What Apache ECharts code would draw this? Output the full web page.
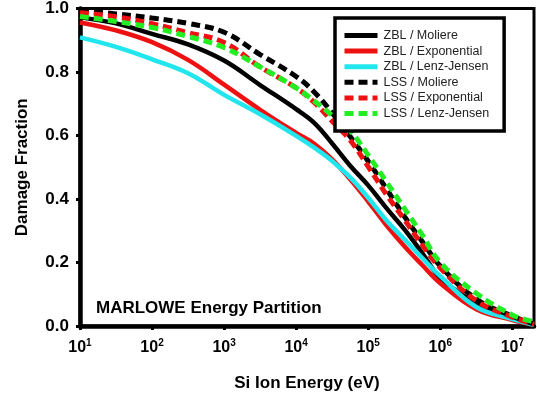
<!DOCTYPE html>
<html>
<head>
<meta charset="utf-8">
<script src="https://cdn.jsdelivr.net/npm/echarts@6/dist/echarts.min.js"></script>
<style>
  html, body { margin: 0; padding: 0; background: #fff; }
  #chart { width: 537px; height: 397px; }
</style>
</head>
<body>
<div id="chart"></div>
<script>
// Si ion energy (eV) sample points
const energies = [1e1, 3.16e1, 1e2, 3.16e2, 1e3, 3.16e3, 1e4, 1.78e4, 3.16e4, 5.62e4,
                  1e5, 1.78e5, 3.16e5, 5.62e5, 1e6, 3.16e6, 1e7, 2e7];

// Damage fraction for each stopping / potential combination
const zblMoliere     = [0.972, 0.953, 0.920, 0.887, 0.836, 0.759, 0.683, 0.640, 0.575, 0.505,
                        0.443, 0.372, 0.305, 0.230, 0.152, 0.072, 0.025, 0.004];
const zblExponential = [0.956, 0.931, 0.894, 0.838, 0.760, 0.681, 0.608, 0.574, 0.525, 0.462,
                        0.392, 0.318, 0.252, 0.192, 0.135, 0.053, 0.019, 0.004];
const zblLenzJensen  = [0.909, 0.879, 0.840, 0.796, 0.728, 0.667, 0.599, 0.562, 0.520, 0.468,
                        0.404, 0.333, 0.274, 0.214, 0.157, 0.060, 0.022, 0.004];
const lssMoliere     = [0.994, 0.983, 0.970, 0.953, 0.925, 0.855, 0.786, 0.737, 0.671, 0.597,
                        0.519, 0.433, 0.346, 0.266, 0.189, 0.085, 0.031, 0.006];
const lssExponential = [0.987, 0.974, 0.952, 0.924, 0.893, 0.816, 0.750, 0.704, 0.645, 0.585,
                        0.502, 0.415, 0.336, 0.255, 0.183, 0.080, 0.028, 0.006];
const lssLenzJensen  = [0.975, 0.959, 0.940, 0.912, 0.877, 0.816, 0.750, 0.709, 0.663, 0.615,
                        0.538, 0.455, 0.371, 0.287, 0.200, 0.103, 0.035, 0.013];

const seriesNames = ['ZBL / Moliere', 'ZBL / Exponential', 'ZBL / Lenz-Jensen',
                     'LSS / Moliere', 'LSS / Exponential', 'LSS / Lenz-Jensen'];
const yTicks = [0, 0.2, 0.4, 0.6, 0.8, 1.0];

const FONT = "'Liberation Sans', Arial, sans-serif";

function pairs(values) {
  return energies.map((e, i) => [e, values[i]]);
}

function makeLine(name, values, color, dashed) {
  return {
    name: name,
    type: 'line',
    data: pairs(values),
    smooth: 0.4,
    symbol: 'none',
    lineStyle: {
      color: color,
      width: dashed ? 5 : 4.5,
      type: dashed ? [9, 5] : 'solid',
      cap: 'butt'
    },
    itemStyle: { color: color },
    emphasis: { disabled: true },
    z: dashed ? 3 : 2
  };
}

const chart = echarts.init(document.getElementById('chart'), null, { renderer: 'canvas' });

chart.setOption({
  animation: false,
  backgroundColor: '#ffffff',
  textStyle: { fontFamily: FONT },
  grid: {
    left: 80, right: 3, top: 8, bottom: 71,
    show: true, borderColor: '#000', borderWidth: 3, backgroundColor: 'transparent'
  },
  legend: {
    orient: 'vertical',
    left: 335, top: 18,
    padding: [11, 15, 11, 7],
    itemWidth: 33, itemHeight: 14, itemGap: 2.6,
    borderColor: '#000', borderWidth: 3.5,
    backgroundColor: '#fff',
    itemStyle: { opacity: 0 },
    lineStyle: { width: 5 },
    textStyle: { fontFamily: FONT, fontSize: 12.5, color: '#222', padding: [0, 0, 0, 1] },
    data: seriesNames,
    z: 10
  },
  xAxis: {
    type: 'log',
    logBase: 10,
    min: 10, max: 2e7,
    name: 'Si Ion Energy (eV)',
    nameLocation: 'middle',
    nameGap: 49,
    nameTextStyle: { fontFamily: FONT, fontSize: 17, fontWeight: 'bold', color: '#000' },
    axisLine: { lineStyle: { color: '#000', width: 4.5 } },
    axisTick: { show: true, length: 4, lineStyle: { color: '#000', width: 3 } },
    minorTick: { show: false },
    splitLine: { show: false },
    axisLabel: {
      margin: 12,
      showMaxLabel: false,
      formatter: function (v) {
        const e = Math.round(Math.log10(v));
        return '{b|10}{s|' + e + '}';
      },
      rich: {
        b: { fontFamily: FONT, fontSize: 16, fontWeight: 'bold', color: '#000' },
        s: { fontFamily: FONT, fontSize: 10, fontWeight: 'bold', color: '#000', padding: [0, 0, 9, 0] }
      }
    }
  },
  yAxis: {
    type: 'value',
    min: 0, max: 1, interval: 0.2,
    name: 'Damage Fraction',
    nameLocation: 'middle',
    nameGap: 49,
    nameTextStyle: { fontFamily: FONT, fontSize: 17, fontWeight: 'bold', color: '#000' },
    axisLine: { show: true, lineStyle: { color: '#000', width: 4.5 } },
    axisTick: { show: true, length: 4, lineStyle: { color: '#000', width: 3 } },
    splitLine: { show: false },
    axisLabel: {
      margin: 11,
      fontFamily: FONT, fontSize: 17, fontWeight: 'bold', color: '#000',
      formatter: function (v) {
        return yTicks.some(t => Math.abs(t - v) < 1e-9) ? v.toFixed(1) : '';
      }
    }
  },
  graphic: [{
    type: 'text',
    left: 96, top: 300,
    style: {
      text: 'MARLOWE Energy Partition',
      fontFamily: FONT, fontSize: 17, fontWeight: 'bold', fill: '#000'
    },
    z: 5
  }],
  series: [
    makeLine(seriesNames[0], zblMoliere, '#000000', false),
    makeLine(seriesNames[1], zblExponential, '#ee1111', false),
    makeLine(seriesNames[2], zblLenzJensen, '#22e6ee', false),
    makeLine(seriesNames[3], lssMoliere, '#000000', true),
    makeLine(seriesNames[4], lssExponential, '#ee1111', true),
    makeLine(seriesNames[5], lssLenzJensen, '#22ee22', true)
  ]
});
</script>
</body>
</html>
